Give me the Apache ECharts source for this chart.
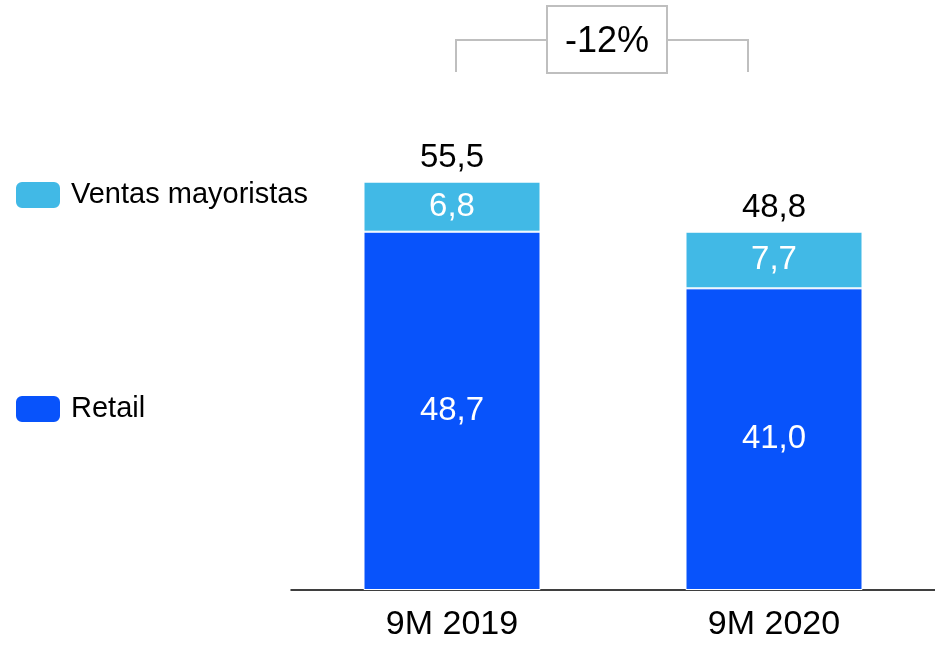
<!DOCTYPE html>
<html>
<head>
<meta charset="utf-8">
<script src="https://cdn.jsdelivr.net/npm/echarts@6/dist/echarts.min.js"></script>
<style>html,body{margin:0;padding:0;background:#fff}#c{width:935px;height:648px}</style>
</head>
<body>
<div id="c"></div>
<script>
const categories = ['9M 2019', '9M 2020'];
const retail = [48.7, 41.0];
const mayoristas = [6.8, 7.7];
const totals = [55.5, 48.8];
const changeLabel = '-12%';

const fmt = v => v.toFixed(1).replace('.', ',');
const FONT = '"Liberation Sans", Arial, sans-serif';
const chart = echarts.init(document.getElementById('c'));
chart.setOption({
  animation: false,
  textStyle: { fontFamily: FONT },
  grid: { left: 291, right: 0, top: 100, bottom: 58 },
  legend: {
    orient: 'vertical', left: 14, top: 180, padding: 0,
    itemWidth: 46, itemHeight: 28, itemGap: 184,
    icon: 'roundRect',
    data: ['Ventas mayoristas', 'Retail'],
    textStyle: { fontSize: 29, color: '#000', fontFamily: FONT, padding: [0, 0, 0, 5] },
    selectedMode: false
  },
  xAxis: {
    type: 'category', data: categories,
    axisLine: { lineStyle: { color: '#000', width: 1.5 } },
    axisTick: { show: false },
    axisLabel: { fontSize: 34, color: '#000', margin: 18, fontFamily: FONT }
  },
  yAxis: { type: 'value', min: 0, max: 66.6, show: false, splitLine: { show: false } },
  series: [
    {
      name: 'Retail', type: 'bar', stack: 't', barWidth: 177, data: retail,
      itemStyle: { color: '#0853FB', borderColor: '#fff', borderWidth: 1 },
      label: { show: true, position: 'inside', color: '#fff', fontSize: 33, fontFamily: FONT, formatter: p => fmt(p.value) }
    },
    {
      name: 'Ventas mayoristas', type: 'bar', stack: 't', barWidth: 177, data: mayoristas,
      itemStyle: { color: '#41B9E6', borderColor: '#fff', borderWidth: 1 },
      label: { show: true, position: 'inside', color: '#fff', fontSize: 33, fontFamily: FONT, formatter: p => fmt(p.value) }
    },
    {
      name: 'Total', type: 'bar', stack: 't', barWidth: 177, data: totals.map(() => 0), silent: true,
      itemStyle: { color: 'rgba(0,0,0,0)' },
      label: { show: true, position: 'top', distance: 7, color: '#000', fontSize: 33, fontFamily: FONT, formatter: p => fmt(totals[p.dataIndex]) }
    }
  ],
  graphic: [
    { type: 'polyline', shape: { points: [[456, 72], [456, 40], [547, 40]] }, style: { stroke: '#BFBFBF', lineWidth: 2, fill: null } },
    { type: 'polyline', shape: { points: [[667, 40], [748, 40], [748, 72]] }, style: { stroke: '#BFBFBF', lineWidth: 2, fill: null } },
    { type: 'rect', shape: { x: 547, y: 6, width: 120, height: 67 }, style: { stroke: '#BFBFBF', lineWidth: 2, fill: '#fff' } },
    { type: 'text', x: 607, y: 42, style: { text: changeLabel, fontSize: 36, fontFamily: FONT, fill: '#000', align: 'center', verticalAlign: 'middle' } }
  ]
});
</script>
</body>
</html>
